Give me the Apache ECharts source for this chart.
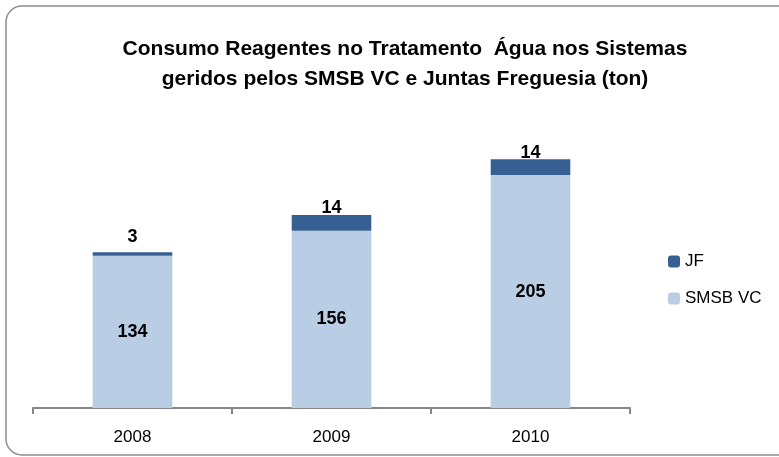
<!DOCTYPE html>
<html>
<head>
<meta charset="utf-8">
<script src="https://cdn.jsdelivr.net/npm/echarts@6/dist/echarts.min.js"></script>
<style>
  html, body { margin: 0; padding: 0; background: #fff; }
  #chart { width: 779px; height: 457px; }
</style>
</head>
<body>
<div id="chart"></div>
<script>
// dados
const years = ['2008', '2009', '2010'];
const smsbValues = [134, 156, 205];
const jfValues = [3, 14, 14];
// deslocamento das etiquetas JF (a primeira fica mais acima)
const jfLabelDist = [6, -2, -3];

const font = '"Liberation Sans Narrow", "Arial Narrow", "Liberation Sans", sans-serif';
const chart = echarts.init(document.getElementById('chart'));

const option = {
  animation: false,
  textStyle: { fontFamily: font },
  title: {
    text: 'Consumo Reagentes no Tratamento  Água nos Sistemas\ngeridos pelos SMSB VC e Juntas Freguesia (ton)',
    left: 400,
    textAlign: 'center',
    top: 29,
    textStyle: {
      fontFamily: font,
      fontSize: 21,
      fontWeight: 'bold',
      color: '#000',
      lineHeight: 30
    }
  },
  graphic: [
    {
      type: 'rect',
      shape: { x: 6, y: 6, width: 790, height: 449, r: 16 },
      style: { fill: 'none', stroke: '#8c8c8c', lineWidth: 1.5 },
      silent: true
    }
  ],
  legend: {
    orient: 'vertical',
    left: 663,
    top: 248,
    itemWidth: 12,
    itemHeight: 12,
    itemGap: 20,
    data: ['JF', 'SMSB VC'],
    textStyle: { fontFamily: font, fontSize: 17, color: '#000' }
  },
  grid: {
    left: 33,
    right: 149,
    top: 124,
    bottom: 49
  },
  xAxis: {
    type: 'category',
    data: years,
    axisLine: { lineStyle: { color: '#868686', width: 2 } },
    axisTick: { show: true, length: 6, lineStyle: { color: '#868686', width: 2 } },
    axisLabel: { fontFamily: font, fontSize: 17, color: '#000', margin: 21 }
  },
  yAxis: {
    type: 'value',
    min: 0,
    max: 250,
    show: false
  },
  series: [
    {
      name: 'SMSB VC',
      type: 'bar',
      stack: 'total',
      barWidth: '40%',
      data: smsbValues,
      itemStyle: { color: '#B9CDE5' },
      label: {
        show: true,
        position: 'inside',
        fontFamily: font,
        fontSize: 18,
        fontWeight: 'bold',
        color: '#000'
      }
    },
    {
      name: 'JF',
      type: 'bar',
      stack: 'total',
      barWidth: '40%',
      data: jfValues.map((v, i) => ({
        value: v,
        label: { distance: jfLabelDist[i] }
      })),
      itemStyle: { color: '#376092' },
      label: {
        show: true,
        position: 'top',
        fontFamily: font,
        fontSize: 18,
        fontWeight: 'bold',
        color: '#000'
      }
    }
  ]
};

chart.setOption(option);
</script>
</body>
</html>
